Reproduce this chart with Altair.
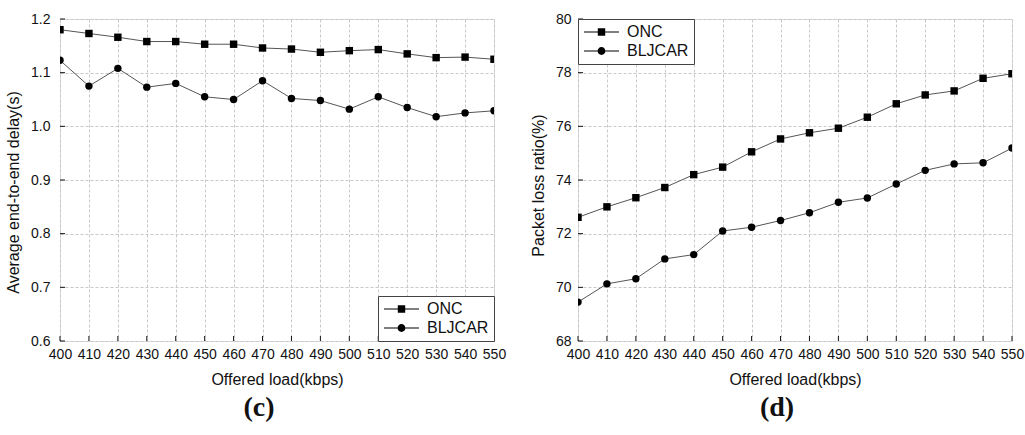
import altair as alt
import pandas as pd

load = [400, 410, 420, 430, 440, 450, 460, 470, 480, 490, 500, 510, 520, 530, 540, 550]
series_names = ["ONC", "BLJCAR"]

delay_onc = [1.180, 1.173, 1.166, 1.158, 1.158, 1.153, 1.153, 1.146, 1.144, 1.138, 1.141, 1.143, 1.135, 1.128, 1.129, 1.125]
delay_bljcar = [1.123, 1.075, 1.108, 1.073, 1.080, 1.055, 1.050, 1.085, 1.052, 1.048, 1.032, 1.055, 1.035, 1.018, 1.025, 1.029]

loss_onc = [72.61, 73.00, 73.34, 73.72, 74.20, 74.48, 75.05, 75.53, 75.76, 75.93, 76.34, 76.84, 77.17, 77.32, 77.79, 77.96]
loss_bljcar = [69.45, 70.13, 70.32, 71.06, 71.22, 72.10, 72.24, 72.49, 72.78, 73.17, 73.33, 73.85, 74.36, 74.60, 74.64, 75.19]

x_ticks = list(range(400, 551, 10))
delay_ticks = [0.6, 0.7, 0.8, 0.9, 1.0, 1.1, 1.2]
loss_ticks = [68, 70, 72, 74, 76, 78, 80]

FONT = "Liberation Sans"
W, H = 434, 322

SQ_PATH = ("M-1,-0.07H0.97V0.07H-1Z M2.03,-0.07H4V0.07H2.03Z "
           "M0.97,-0.53H2.03V0.53H0.97Z")
CI_PATH = ("M-1,-0.07H0.94V0.07H-1Z M2.06,-0.07H4V0.07H2.06Z "
           "M0.94,0A0.56,0.56 0 1,0 2.06,0A0.56,0.56 0 1,0 0.94,0Z")


def make_df(a, b):
    rows = []
    for name, vals in zip(series_names, [a, b]):
        for x, v in zip(load, vals):
            rows.append({"load": x, "value": v, "series": name})
    return pd.DataFrame(rows)


def panel(df, ticks, ydomain, yfmt, ytitle, title_y, legend_orient, label, lpad):
    xaxis = alt.Axis(values=x_ticks, title="Offered load(kbps)", format="d",
                     ticks=False, domain=False, labelPadding=6,
                     labelOverlap=False, labelFlush=False,
                     titlePadding=10, gridDash=[3, 2], gridColor="#c8c8c8",
                     labelFontSize=14, titleFontSize=16, labelFont=FONT,
                     titleFont=FONT, titleFontWeight="normal",
                     labelColor="#111", titleColor="#111")
    yaxis = alt.Axis(values=ticks, title=ytitle, format=yfmt,
                     ticks=False, domain=False, labelPadding=lpad,
                     labelOverlap=False, labelFlush=False,
                     titlePadding=9, gridDash=[3, 2], gridColor="#c8c8c8",
                     labelFontSize=14, titleFontSize=16, labelFont=FONT,
                     titleFont=FONT, titleFontWeight="normal",
                     labelColor="#111", titleColor="#111",
                     titleY=title_y, titleAlign="center")
    xscale = alt.Scale(domain=[400, 550], nice=False, zero=False)
    yscale = alt.Scale(domain=ydomain, nice=False, zero=False)
    xs = alt.X("load:Q", scale=xscale, axis=xaxis)
    ys = alt.Y("value:Q", scale=yscale, axis=yaxis)
    base = alt.Chart(df)
    lines = base.mark_line(color="#555555", strokeWidth=1, clip=True).encode(
        x=xs, y=ys, detail="series:N")
    pts = base.mark_point(filled=True, color="black", opacity=1, size=55, clip=True).encode(
        x=xs, y=ys,
        shape=alt.Shape("series:N",
                        scale=alt.Scale(domain=series_names, range=["square", "circle"]),
                        legend=None))
    leg = base.mark_point(filled=True, color="black", opacity=0, size=196, clip=True).encode(
        x=xs, y=ys,
        shape=alt.Shape("series:N",
                        scale=alt.Scale(domain=series_names, range=[SQ_PATH, CI_PATH]),
                        legend=alt.Legend(title=None, orient=legend_orient, offset=0,
                                          strokeColor="#444", fillColor="white",
                                          padding=5, labelFont=FONT, labelFontSize=16,
                                          labelColor="#111", symbolSize=196,
                                          symbolStrokeWidth=0, symbolOpacity=1,
                                          symbolFillColor="black",
                                          labelOffset=28, rowPadding=3)))
    tick_df = pd.DataFrame({"load": x_ticks})
    xtk = alt.Chart(tick_df).mark_rule(color="#111", strokeWidth=1).encode(
        x=alt.X("load:Q", scale=xscale, axis=xaxis),
        y=alt.value(H), y2=alt.value(H - 5))
    ytk_df = pd.DataFrame({"value": ticks})
    ytk = alt.Chart(ytk_df).mark_rule(color="#111", strokeWidth=1).encode(
        y=alt.Y("value:Q", scale=yscale, axis=yaxis),
        x=alt.value(0), x2=alt.value(5))
    return alt.layer(lines, pts, leg, xtk, ytk).resolve_scale(shape="independent").properties(
        width=W, height=H,
        title=alt.TitleParams(label, orient="bottom", font="Liberation Serif",
                              fontSize=28, fontWeight="bold", color="#111", offset=7,
                              dx=-18))


left = panel(make_df(delay_onc, delay_bljcar), delay_ticks, [0.6, 1.2], ".1f",
             "Average end-to-end delay(s)", 173, "bottom-right", "(c)", 10)
right = panel(make_df(loss_onc, loss_bljcar), loss_ticks, [68, 80], "d",
              "Packet loss ratio(%)", 166, "top-left", "(d)", 7)

chart = alt.hconcat(left, right, spacing=22).properties(
    padding={"left": 5, "top": 11, "right": 0, "bottom": 0}
).configure_view(stroke="#222", strokeWidth=1.5).configure(background="white")

chart.save("out.html", embed_options={"renderer": "svg", "actions": False})
